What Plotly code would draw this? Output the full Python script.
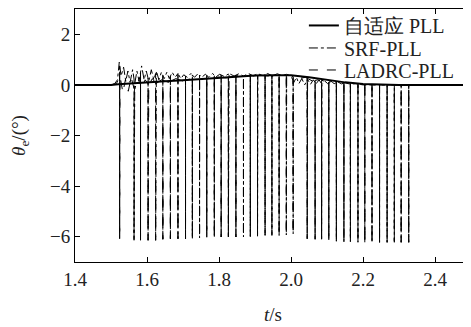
import numpy as np
import plotly.graph_objects as go

# ---------------- data ----------------
ADAPT_T = [1.40, 1.50, 1.52, 1.55, 1.60, 1.65, 1.70, 1.75, 1.80, 1.85, 1.90, 1.95, 2.00,
           2.05, 2.10, 2.15, 2.20, 2.25, 2.30, 2.50]
ADAPT_Y = [0.0, 0.0, 0.03, 0.06, 0.10, 0.14, 0.18, 0.23, 0.28, 0.33, 0.37, 0.38, 0.38,
           0.30, 0.20, 0.10, 0.04, 0.01, 0.0, 0.0]

SRF_T = [1.40, 1.50, 1.510, 1.518, 1.523, 1.528, 1.535, 1.541, 1.547, 1.553, 1.560, 1.566,
         1.572, 1.578, 1.585, 1.592, 1.598, 1.605, 1.612, 1.619, 1.626, 1.633, 1.640, 1.648,
         1.655, 1.662, 1.670, 1.678, 1.686, 1.694, 1.702, 1.712, 1.722, 1.732, 1.742, 1.752,
         1.762, 1.772, 1.782, 1.792, 1.802, 1.815, 1.828, 1.842, 1.855, 1.868, 1.882, 1.895,
         1.908, 1.922, 1.935, 1.948, 1.962, 1.975, 1.988, 2.000, 2.008, 2.015, 2.022, 2.030,
         2.038, 2.046, 2.054, 2.062, 2.070, 2.078, 2.086, 2.094, 2.102, 2.110, 2.120, 2.130,
         2.140, 2.150, 2.165, 2.180, 2.200, 2.250, 2.500]
SRF_Y = [0.0, 0.0, 0.05, 0.20, 0.90, 0.35, 0.70, 0.15, 0.55, 0.10, 0.60, 0.05,
         0.55, 0.15, 0.75, 0.20, 0.55, 0.15, 0.60, 0.20, 0.55, 0.20, 0.50, 0.25,
         0.50, 0.25, 0.50, 0.30, 0.45, 0.25, 0.40, 0.30, 0.45, 0.30, 0.45, 0.30,
         0.42, 0.30, 0.45, 0.32, 0.42, 0.33, 0.45, 0.35, 0.44, 0.35, 0.45, 0.36,
         0.44, 0.37, 0.45, 0.36, 0.44, 0.37, 0.42, 0.35, 0.10, 0.30, 0.05, 0.25,
         0.00, 0.22, 0.02, 0.20, 0.05, 0.20, 0.02, 0.15, 0.05, 0.15, 0.05, 0.12,
         0.04, 0.08, 0.03, 0.05, 0.00, 0.0, 0.0]

LADRC_T = [1.40, 1.50, 1.515, 1.525, 1.533, 1.540, 1.548, 1.556, 1.565, 1.575, 1.585, 1.595,
           1.605, 1.615, 1.625, 1.640, 1.660, 1.680, 1.700, 1.730, 1.760, 1.790, 1.820, 1.850,
           1.880, 1.910, 1.940, 1.970, 2.000, 2.020, 2.040, 2.060, 2.080, 2.100, 2.120, 2.140,
           2.160, 2.180, 2.200, 2.250, 2.500]
LADRC_Y = [0.0, 0.0, 0.05, 0.35, -0.30, 0.20, -0.25, 0.30, -0.20, 0.25, -0.10, 0.20,
           0.0, 0.25, 0.05, 0.20, 0.10, 0.25, 0.15, 0.28, 0.22, 0.32, 0.28, 0.36,
           0.33, 0.38, 0.35, 0.38, 0.36, 0.25, 0.30, 0.15, 0.22, 0.10, 0.15, 0.06,
           0.08, 0.03, 0.02, 0.0, 0.0]

# phase-wrap spikes (time, depth)
SPIKE_T = [1.524, 1.564, 1.582, 1.603, 1.624, 1.644, 1.665, 1.686, 1.707, 1.726, 1.746,
           1.766, 1.787, 1.806, 1.826, 1.847, 1.868, 1.887, 1.907, 1.928, 1.947, 1.967,
           1.987, 2.006, 2.045, 2.067, 2.085, 2.105, 2.126, 2.147, 2.165, 2.186, 2.205,
           2.225, 2.246, 2.267, 2.287, 2.306, 2.327]
SPIKE_D = [-6.08, -6.14, -6.14, -6.14, -6.14, -6.10, -6.08, -6.08, -6.08, -6.08, -6.05,
           -6.02, -6.02, -6.01, -6.01, -6.01, -6.01, -6.0, -5.98, -5.95, -5.95, -5.95,
           -5.93, -5.88, -6.08, -6.10, -6.10, -6.12, -6.18, -6.20, -6.20, -6.22, -6.22,
           -6.22, -6.22, -6.22, -6.22, -6.22, -6.22]

X_TICKS = [1.4, 1.6, 1.8, 2.0, 2.2, 2.4]
Y_TICKS = [-6, -4, -2, 0, 2]


def with_spikes(t, y, st, sd):
    pts = [(ti, 0, yi) for ti, yi in zip(t, y)]
    for s, d in zip(st, sd):
        top = float(np.interp(s, t, y))
        pts += [(s, 1, top), (s, 2, d), (s, 3, top)]
    pts.sort(key=lambda p: (p[0], p[1]))
    return [p[0] for p in pts], [p[2] for p in pts]


srf_x, srf_y = with_spikes(SRF_T, SRF_Y, SPIKE_T, SPIKE_D)
lad_x, lad_y = with_spikes(LADRC_T, LADRC_Y, SPIKE_T, SPIKE_D)

FONT = "Liberation Serif"
TXT = "#222"

fig = go.Figure()
fig.add_trace(go.Scatter(x=ADAPT_T, y=ADAPT_Y, mode="lines", name="自适应 PLL",
                         line=dict(color="black", width=2), legend="legend"))
fig.add_trace(go.Scatter(x=srf_x, y=srf_y, mode="lines", name="SRF-PLL",
                         line=dict(color="black", width=1, dash="dashdot"), legend="legend2"))
fig.add_trace(go.Scatter(x=lad_x, y=lad_y, mode="lines", name="LADRC-PLL",
                         line=dict(color="black", width=1, dash="dash"), legend="legend3"))

axis_common = dict(showgrid=False, zeroline=False, showline=True, linecolor="black",
                   linewidth=1, mirror="ticks", ticks="inside", ticklen=5, automargin=False,
                   tickcolor="black", tickfont=dict(family=FONT, size=19, color=TXT))

leg_common = dict(x=0.578, xanchor="left", yanchor="middle", bgcolor="rgba(0,0,0,0)",
                  borderwidth=0, font=dict(family=FONT, size=20, color=TXT))

fig.update_layout(
    width=463, height=319,
    margin=dict(l=67, r=0, t=1, b=65, autoexpand=False),
    paper_bgcolor="white", plot_bgcolor="white",
    font=dict(family=FONT, size=19, color=TXT),
    showlegend=True,
    legend=dict(y=0.935, **leg_common),
    legend2=dict(y=0.846, **leg_common),
    legend3=dict(y=0.759, **leg_common),
    xaxis=dict(range=[1.4, 2.5], tickvals=X_TICKS, ticktext=[f"{v:.1f}" for v in X_TICKS],
               title=dict(text="<i>t</i>/s", font=dict(family=FONT, size=19, color=TXT),
                          standoff=18),
               **axis_common),
    yaxis=dict(range=[-7, 3], tickvals=Y_TICKS,
               ticktext=[("\u2212" + str(abs(v))) if v < 0 else str(v) for v in Y_TICKS],
               title=dict(text="<i>θ</i><sub>e</sub>/(°)",
                          font=dict(family=FONT, size=19, color=TXT), standoff=35),
               **axis_common),
)

fig.write_html("out.html")
